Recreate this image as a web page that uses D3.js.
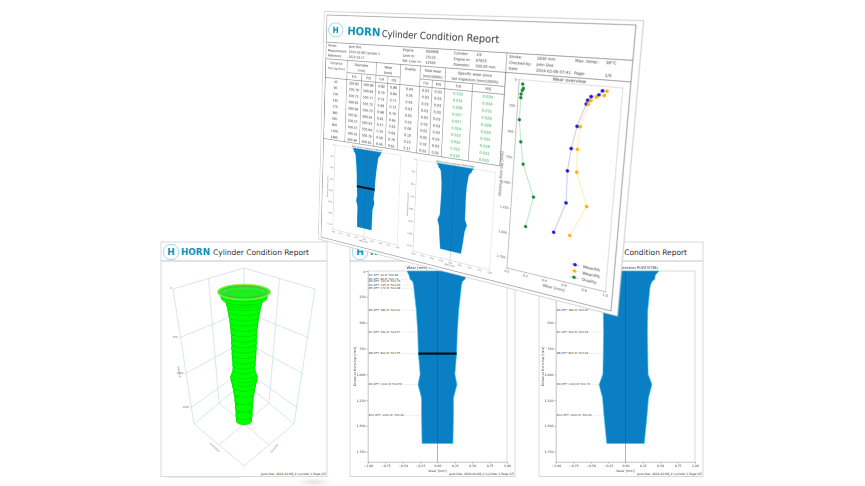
<!DOCTYPE html>
<html><head><meta charset="utf-8">
<script src="https://cdn.jsdelivr.net/npm/d3@7/dist/d3.min.js"></script>
<style>
html,body{margin:0;padding:0;background:#fff;width:865px;height:486px;overflow:hidden}
#wrap{position:absolute;left:0;top:0;width:865px;height:486px;filter:blur(.3px);overflow:hidden}
svg{position:absolute;left:0;top:0;font-family:"DejaVu Sans",sans-serif;overflow:visible}
</style></head><body><div id="wrap"></div>
<script>
// ---------- data ----------
const stations=[40,80,100,135,170,380,590,800,1100,1400];
const diaFA=[500.82,500.79,500.73,500.69,500.68,500.61,500.57,500.55,500.56,500.46];
const diaPS=[500.86,500.84,500.77,500.72,500.70,500.64,500.63,500.64,500.76,500.62];
const wearFA=[0.82,0.79,0.72,0.69,0.68,0.61,0.57,0.55,0.56,0.46];
const wearPS=[0.86,0.84,0.77,0.72,0.70,0.64,0.63,0.64,0.76,0.62];
const ovality=[0.04,0.05,0.04,0.03,0.03,0.03,0.06,0.10,0.23,0.17];
const totalFA=[0.03,0.03,0.03,0.03,0.03,0.03,0.02,0.02,0.02,0.02];
const totalPS=[0.03,0.03,0.03,0.03,0.03,0.03,0.03,0.03,0.03,0.02];
const specFA=[0.033,0.032,0.028,0.027,0.027,0.024,0.023,0.022,0.022,0.018];
const specPS=[0.034,0.034,0.031,0.029,0.028,0.026,0.025,0.026,0.031,0.025];
const profileDist=[0,40,80,100,135,170,380,590,800,1000,1100,1230,1400,1670];
const profileFA=[0.88,0.82,0.79,0.72,0.69,0.68,0.61,0.57,0.55,0.50,0.56,0.46,0.46,0.445];
const profilePS=[0.96,0.86,0.84,0.77,0.72,0.70,0.64,0.63,0.64,0.65,0.76,0.66,0.62,0.54];
const ringDist=[0,40,80,100,135,170,240,310,380,450,520,590,660,730,800,870,940,1000,1060,1100,1150,1220,1300,1400,1500,1600,1670];
const ringWear=[0.90,0.84,0.815,0.745,0.705,0.69,0.665,0.645,0.625,0.615,0.605,0.60,0.60,0.60,0.595,0.59,0.585,0.58,0.62,0.66,0.65,0.61,0.58,0.55,0.54,0.53,0.515];
const xTicksWear=[-1,-0.75,-0.5,-0.25,0,0.25,0.5,0.75,1];
const yTicksDist=[0,250,500,750,1000,1250,1500,1750];
const xTicksOverview=[0,0.2,0.4,0.6,0.8,1];
const legendLabels=["Wear/FA","Wear/PS","Ovality"];
const reportTitle="Cylinder Condition Report";
const C={blue:"#0a7fc4",edge:"#35c6ee",teal:"#0b93b8",grey:"#555"};

const wrap=d3.select("#wrap");
const base=wrap.append("svg").attr("width",865).attr("height",486);

function logo(g,cx,cy,rx,ry,fs){
  g.append("ellipse").attr("cx",cx).attr("cy",cy).attr("rx",rx).attr("ry",ry).attr("fill","#fff").attr("stroke","#86d4e6").attr("stroke-width",fs*.09);
  g.append("text").attr("x",cx).attr("y",cy+fs*.37).attr("text-anchor","middle").attr("font-size",fs).attr("font-weight","bold").attr("fill",C.teal).text("H");
}

function wearChart(g,box,o){
  const x=d3.scaleLinear([-1,1],[box.l,box.r]);
  const y=d3.scaleLinear([0,1850],[box.t,box.b]);
  const rows=profileDist.map((d,i)=>({d,w:o.wear[i]}));
  g.append("rect").attr("x",box.l).attr("y",box.t).attr("width",box.r-box.l).attr("height",box.b-box.t).attr("fill","#fff").attr("stroke","#c4c4c4").attr("stroke-width",o.sw);
  const area=d3.area().y(d=>y(d.d)).x0(d=>x(-d.w/2)).x1(d=>x(d.w/2));
  g.append("path").attr("d",area(rows)).attr("fill",C.blue).attr("stroke",C.edge).attr("stroke-width",o.sw);
  g.append("line").attr("x1",x(0)).attr("x2",x(0)).attr("y1",box.t).attr("y2",box.b).attr("stroke","#0a4f80").attr("stroke-opacity",.65).attr("stroke-width",o.sw);
  if(o.bar!==undefined){
    const i=stations.indexOf(o.bar);
    g.append("line").attr("x1",x(-o.stationWear[i]/2)).attr("x2",x(o.stationWear[i]/2)).attr("y1",y(o.bar)).attr("y2",y(o.bar)).attr("stroke","#06121c").attr("stroke-width",o.barW);
  }
  if(o.dia){
    stations.forEach((d,i)=>{
      const t=g.append("text").attr("x",box.l+.5).attr("y",y(d)+o.fs*.25).attr("font-size",o.fs*.9).attr("fill","#444")
        .text(`#${i+1} OFT: ${d} D: ${o.dia[i].toFixed(2)}`);
      const e=box.l+.5+t.node().getComputedTextLength()+1.5;
      g.append("line").attr("x1",e).attr("x2",x(-o.stationWear[i]/2)).attr("y1",y(d)).attr("y2",y(d)).attr("stroke","#d8d8d8").attr("stroke-width",.4);
    });
  }
  const ax=g.append("g").attr("transform",`translate(0,${box.b})`).call(d3.axisBottom(x).tickValues(xTicksWear).tickFormat(d3.format(".2f")).tickSize(o.tick).tickPadding(o.tick*.6));
  const ay=g.append("g").attr("transform",`translate(${box.l},0)`).call(d3.axisLeft(y).tickValues(yTicksDist).tickSize(o.tick).tickPadding(o.tick*.6));
  [ax,ay].forEach(a=>{a.attr("font-size",o.fs).attr("font-family",null);a.select(".domain").attr("stroke","#c4c4c4").attr("stroke-width",o.sw);
    a.selectAll("line").attr("stroke","#999").attr("stroke-width",o.sw);a.selectAll("text").attr("fill","#444");});
  g.append("text").attr("x",(box.l+box.r)/2).attr("y",box.t-o.fs*.5).attr("text-anchor","middle").attr("font-size",o.fs*1.2).attr("fill","#333").text(o.title);
  g.append("text").attr("x",(box.l+box.r)/2).attr("y",box.b+o.fs*3.1).attr("text-anchor","middle").attr("font-size",o.fs*1.05).attr("fill","#444").text("Wear [mm]");
  g.append("text").attr("transform",`translate(${box.l-o.fs*4},${(box.t+box.b)/2}) rotate(-90)`).attr("text-anchor","middle").attr("font-size",o.fs*1.05).attr("fill","#444").text("Distance from top [mm]");
}

function basePage(x0,x1,foot){
  const g=base.append("g");
  g.append("rect").attr("x",x0).attr("y",242).attr("width",x1-x0).attr("height",234.5).attr("fill","#fff").attr("stroke","#d6d9db").attr("stroke-width",1);
  g.append("line").attr("x1",x0).attr("x2",x1).attr("y1",261).attr("y2",261).attr("stroke","#b4b7b9").attr("stroke-width",.8);
  logo(g,x0+10,252,7.8,7.8,9);
  g.append("text").attr("x",x0+20).attr("y",255.3).attr("font-size",9.5).attr("font-weight","bold").attr("fill",C.teal).attr("textLength",29).attr("lengthAdjust","spacingAndGlyphs").text("HORN");
  g.append("text").attr("x",x0+52).attr("y",255.3).attr("font-size",7.6).attr("fill","#333").attr("textLength",96).attr("lengthAdjust","spacingAndGlyphs").text(reportTitle);
  g.append("text").attr("x",x1-1).attr("y",475).attr("text-anchor","end").attr("font-size",2.95).attr("fill","#333").text(foot);
  return g;
}

// ---- left page: 3D surface ----
(function(){
  const g=basePage(161,327,"Jane Doe, 2024-02-08_2 Cylinder 1 Page 2/5");
  const cx=244;
  const levels=[0,500,1000,1500,1850];
  const wallY=d3.scaleLinear().domain(levels).range([289,338,374,408,424]);
  const sx=d3.scaleLinear([0,1850],[71,50]);
  const sy=d3.scaleLinear([0,1850],[21,42]);
  const P=(a,b,d)=>[cx+(a-b)/2*sx(d),wallY(d)+(a+b)/2*sy(d)];
  const line=d3.line();
  const grid=g.append("g").attr("fill","none").attr("stroke","#cfe2ec").attr("stroke-width",.85);
  levels.forEach(d=>grid.append("path").attr("d",line([P(-1,1,d),P(-1,-1,d),P(1,-1,d)])));
  [[-1,1],[-1,0],[-1,-1],[0,-1],[1,-1]].forEach(([a,b])=>grid.append("path").attr("d",line([P(a,b,0),P(a,b,1850)])));
  const floor=1850;
  [[[-1,1],[1,1]],[[1,1],[1,-1]],[[0,-1],[0,1]],[[-1,0],[1,0]]].forEach(([p,q])=>grid.append("path").attr("d",line([P(p[0],p[1],floor),P(q[0],q[1],floor)])));
  const small=g.append("g").attr("font-size",2.6).attr("fill","#777");
  levels.slice(0,4).forEach(d=>{const p=P(-1,1,d);small.append("text").attr("x",p[0]-1).attr("y",p[1]).attr("text-anchor","end").text(d);});
  const lblD=P(-1,1,1000);
  small.append("text").attr("transform",`translate(${lblD[0]-6},${lblD[1]-2}) rotate(80)`).attr("text-anchor","middle").text("Distance");
  small.append("text").attr("transform",`translate(214,448) rotate(42)`).attr("text-anchor","middle").text("Port/Stbd");
  small.append("text").attr("transform",`translate(275,449) rotate(-50)`).attr("text-anchor","middle").text("Fore/Aft");

  const yC=d3.scaleLinear([0,1670],[292,421]);
  const s=d3.scaleLinear([1670,0],[1,1.42]);
  const R=d3.scaleLinear([0.54,0.84],[8.5,17]);
  const sag=d3.scaleLinear([0,1670],[.29,.5]);
  const rings=ringDist.map((d,i)=>({d,r:R(ringWear[i])*s(d)}));
  g.append("path").attr("d",d3.area().y(d=>yC(d.d)).x0(d=>cx-d.r).x1(d=>cx+d.r)(rings)).attr("fill","#00f000");
  const cyl=g.append("g");
  rings.slice().reverse().forEach(r=>{
    if(r.d===0) return;
    cyl.append("ellipse").attr("cx",cx).attr("cy",yC(r.d)).attr("rx",r.r).attr("ry",r.r*sag(r.d)).attr("fill","#00ff00").attr("stroke","#00c400").attr("stroke-width",.45);
  });
  const top=rings[0];
  cyl.append("ellipse").attr("cx",cx).attr("cy",yC(0)).attr("rx",top.r).attr("ry",7.8).attr("fill","#35f035").attr("stroke","#a8e830").attr("stroke-width",.9);
  cyl.append("ellipse").attr("cx",cx).attr("cy",yC(0)).attr("rx",top.r*.86).attr("ry",5.6).attr("fill","#2df02d").attr("stroke","#66803c").attr("stroke-width",.55);
  cyl.append("ellipse").attr("cx",cx).attr("cy",yC(0)+1.8).attr("rx",top.r*.7).attr("ry",3.6).attr("fill","#1cf01c").attr("stroke","#3fa83f").attr("stroke-width",.35);
})();

// ---- middle & right pages ----
const pageMid=basePage(350,515,"Jane Doe, 2024-02-08_2 Cylinder 1 Page 3/5");
wearChart(pageMid,{l:368,r:507,t:271,b:462},{wear:profileFA,stationWear:wearFA,dia:diaFA,bar:800,barW:2.4,fs:3.1,sw:.6,tick:1.6,title:"Wear [mm] in direction FORE/AFT"});
const pageRight=basePage(539,703,"Jane Doe, 2024-02-08_2 Cylinder 1 Page 4/5");
wearChart(pageRight,{l:556,r:695,t:271,b:462},{wear:profilePS,stationWear:wearPS,dia:diaPS,fs:3.1,sw:.6,tick:1.6,title:"Wear [mm] in direction PORT/STBD"});

// faint shadow below left page
const defs=base.append("defs");
const rg=defs.append("radialGradient").attr("id","sh");
rg.append("stop").attr("offset",0).attr("stop-color","#ccc").attr("stop-opacity",.55);
rg.append("stop").attr("offset",1).attr("stop-color","#ccc").attr("stop-opacity",0);
base.append("ellipse").attr("cx",314).attr("cy",482).attr("rx",20).attr("ry",4.5).attr("fill","url(#sh)");
base.append("line").attr("x1",168).attr("x2",240).attr("y1",477.6).attr("y2",477.6).attr("stroke","#e4e4e4").attr("stroke-width",.8);

// ---- tilted top page (perspective through matrix3d) ----
const W=1000,H=800;
const corners=[[327,15],[636,25],[611,311],[321,237]];
function matrix3d(q){
  const [[x0,y0],[x1,y1],[x2,y2],[x3,y3]]=q;
  const dx1=x1-x2,dx2=x3-x2,sx=x0-x1+x2-x3,dy1=y1-y2,dy2=y3-y2,sy=y0-y1+y2-y3;
  const den=dx1*dy2-dx2*dy1;
  const g=(sx*dy2-dx2*sy)/den,h=(dx1*sy-sx*dy1)/den;
  const a=x1-x0+g*x1,b=x3-x0+h*x3,d=y1-y0+g*y1,e=y3-y0+h*y3;
  return `matrix3d(${[a/W,d/W,0,g/W,b/H,e/H,0,h/H,0,0,1,0,x0,y0,0,1].join(",")})`;
}
const topSvg=wrap.append("svg").attr("width",W).attr("height",H)
  .style("transform-origin","0 0").style("filter","blur(1px)").style("transform",matrix3d(corners));
const T=topSvg.append("g");
T.append("rect").attr("x",-12).attr("y",-12).attr("width",W+30).attr("height",H+22).attr("fill","#fff").attr("stroke","#c9c9c9").attr("stroke-width",2.5);
T.append("rect").attr("x",0).attr("y",0).attr("width",W).attr("height",H).attr("fill","#fff").attr("stroke","#8d8d8d").attr("stroke-width",2.2);
logo(T,38,50,30,24,30);
T.append("text").attr("x",87).attr("y",64).attr("font-size",37).attr("font-weight","bold").attr("fill",C.teal).attr("textLength",130).attr("lengthAdjust","spacingAndGlyphs").text("HORN");
T.append("text").attr("x",223).attr("y",66).attr("font-size",31).attr("fill","#333").attr("textLength",403).attr("lengthAdjust","spacingAndGlyphs").text(reportTitle);
T.append("line").attr("x1",0).attr("x2",W).attr("y1",94).attr("y2",94).attr("stroke","#777").attr("stroke-width",2);
T.append("line").attr("x1",0).attr("x2",W).attr("y1",152).attr("y2",152).attr("stroke","#777").attr("stroke-width",2);

// header info block
const infoCols=[
 {lx:8,vx:95,l:["Vessel:","Measurement:","Reference:"],v:["Jane Doe","2024-02-08 Cylinder 1","2022-03-17"]},
 {lx:304,vx:387,l:["Engine:","Liner m:","Ref. Liner m:"],v:["6S50ME","25132","12566"]},
 {lx:483,vx:556,l:["Cylinder:","Engine m:","Diameter:"],v:["1/6","67825","500.00 mm"]},
 {lx:660,vx:742,l:["Stroke:","Checked by:","Date:"],v:["1830 mm","John Doe","2024-02-08 07:41"]},
 {lx:850,vx:932,l:["Max. temp.:","","Page:"],v:["38°C","","1/5"]}];
const infoY=[108,126,143];
infoCols.forEach(c=>infoY.forEach((y,i)=>{
  if(!c.l[i]) return;
  T.append("text").attr("x",c.lx).attr("y",y).attr("font-size",11).attr("fill","#333").text(c.l[i]);
  T.append("text").attr("x",c.vx).attr("y",y).attr("font-size",11).attr("fill","#333").text(c.v[i]);
}));

// table
const colEdges=[0,90,150,206,252,298,370,414,458,550,652];
const rowTop=218,rowH=21.8,hdrTop=152,subTop=194;
const tbl=T.append("g").attr("font-size",11.5).attr("fill","#333").attr("text-anchor","middle");
const tline=(x1,y1,x2,y2)=>tbl.append("line").attr("x1",x1).attr("y1",y1).attr("x2",x2).attr("y2",y2).attr("stroke","#555").attr("stroke-width",1.3);
const tableBottom=rowTop+rowH*stations.length;
tline(0,tableBottom,colEdges[10],tableBottom);
tline(0,rowTop,colEdges[10],rowTop);
[[1,2],[3,4],[6,7],[8,9]].forEach(([a,b])=>tline(colEdges[a],subTop,colEdges[b+1],subTop));
colEdges.forEach((x,i)=>{
  const sub=[2,4,7,9].includes(i);
  tline(x,sub?subTop:hdrTop,x,tableBottom);
});
const groupHeads=[[0,1,"Distance","from top [mm]"],[1,3,"Diameter","[mm]"],[3,5,"Wear","[mm]"],[5,6,"Ovality",""],[6,8,"Total wear","[mm/1000h]"],[8,10,"Specific wear since","last inspection [mm/1000h]"]];
groupHeads.forEach(([a,b,t1,t2])=>{
  const mx=(colEdges[a]+colEdges[b])/2;
  tbl.append("text").attr("x",mx).attr("y",169).text(t1);
  if(t2) tbl.append("text").attr("x",mx).attr("y",187).attr("font-size",a===0?9.5:11).text(t2);
});
[1,3,6,8].forEach(a=>{
  [["F/A",a],["P/S",a+1]].forEach(([t,j])=>tbl.append("text").attr("x",(colEdges[j]+colEdges[j+1])/2).attr("y",210).text(t));
});
const tableCols=[[stations,d=>d,"#333"],[diaFA,d3.format(".2f"),"#333"],[diaPS,d3.format(".2f"),"#333"],[wearFA,d3.format(".2f"),"#333"],[wearPS,d3.format(".2f"),"#333"],[ovality,d3.format(".2f"),"#333"],[totalFA,d3.format(".2f"),"#333"],[totalPS,d3.format(".2f"),"#333"],[specFA,d3.format(".3f"),"#1ea64a"],[specPS,d3.format(".3f"),"#1ea64a"]];
tableCols.forEach(([arr,f,col],c)=>{
  tbl.append("g").selectAll("text").data(arr).join("text")
    .attr("x",(colEdges[c]+colEdges[c+1])/2).attr("y",(d,i)=>rowTop+rowH*i+rowH*.72).attr("fill",col).text(f);
});
T.append("line").attr("x1",colEdges[10]).attr("x2",colEdges[10]).attr("y1",94).attr("y2",tableBottom).attr("stroke","#555").attr("stroke-width",1.3);

// small wear plots on the tilted page
wearChart(T.append("g"),{l:50,r:313,t:453,b:760},{wear:profileFA,stationWear:wearFA,bar:800,barW:7,fs:6.2,sw:1,tick:4,title:"Wear [mm] in direction FORE/AFT"});
wearChart(T.append("g"),{l:373,r:640,t:458,b:768},{wear:profilePS,stationWear:wearPS,fs:6.2,sw:1,tick:4,title:"Wear [mm] in direction PORT/STBD"});

// overview plot
(function(){
  const b={l:694,r:981,t:170,b:748};
  const g=T.append("g");
  const x=d3.scaleLinear([0,1],[b.l,b.r]);
  const y=d3.scaleLinear([0,1850],[b.t,b.b]);
  g.append("rect").attr("x",b.l).attr("y",b.t).attr("width",b.r-b.l).attr("height",b.b-b.t).attr("fill","#fff").attr("stroke","#bdbdbd").attr("stroke-width",1.4);
  const series=[[wearFA,"#a9a9f0","#1a1acb"],[wearPS,"#ffe28e","#ffb000"],[ovality,"#8fd8a0","#128a3a"]];
  series.forEach(([vals,lc,mc])=>{
    const pts=vals.map((v,i)=>[x(v),y(stations[i])]);
    g.append("path").attr("d",d3.line()(pts)).attr("fill","none").attr("stroke",lc).attr("stroke-width",1.8);
    g.append("g").selectAll("circle").data(pts).join("circle").attr("cx",p=>p[0]).attr("cy",p=>p[1]).attr("r",5).attr("fill",mc);
  });
  const ax=g.append("g").attr("transform",`translate(0,${b.b})`).call(d3.axisBottom(x).tickValues(xTicksOverview).tickFormat(d3.format(".1f")).tickSize(4).tickPadding(3));
  const ay=g.append("g").attr("transform",`translate(${b.l},0)`).call(d3.axisLeft(y).tickValues(yTicksDist).tickSize(4).tickPadding(3));
  [ax,ay].forEach(a=>{a.attr("font-size",9.5).attr("font-family",null);a.select(".domain").attr("stroke","#999").attr("stroke-width",1.4);a.selectAll("line").attr("stroke","#999");a.selectAll("text").attr("fill","#444");});
  g.append("text").attr("x",(b.l+b.r)/2).attr("y",b.t-5).attr("text-anchor","middle").attr("font-size",12.5).attr("fill","#333").text("Wear overview");
  g.append("text").attr("x",(b.l+b.r)/2).attr("y",b.b+30).attr("text-anchor","middle").attr("font-size",11.5).attr("fill","#444").text("Wear [mm]");
  g.append("text").attr("transform",`translate(${b.l-33},${(b.t+b.b)/2}) rotate(-90)`).attr("text-anchor","middle").attr("font-size",11.5).attr("fill","#444").text("Distance from top [mm]");
  legendLabels.forEach((t,i)=>{
    const ly=b.b-58+i*19, lx=b.r-88;
    g.append("line").attr("x1",lx-13).attr("x2",lx+13).attr("y1",ly).attr("y2",ly).attr("stroke",series[i][1]).attr("stroke-width",1.8);
    g.append("circle").attr("cx",lx).attr("cy",ly).attr("r",5).attr("fill",series[i][2]);
    g.append("text").attr("x",lx+22).attr("y",ly+4).attr("font-size",11.5).attr("fill","#333").text(t);
  });
})();
</script></body></html>
